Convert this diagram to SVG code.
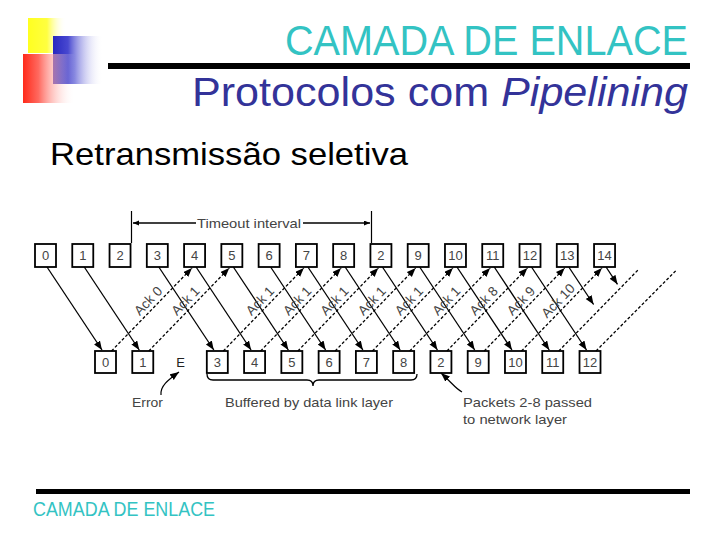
<svg xmlns="http://www.w3.org/2000/svg" width="720" height="540" viewBox="0 0 720 540">
<defs>
<linearGradient id="gy" x1="0" x2="1" y1="0" y2="0"><stop offset="0" stop-color="#FFFF20"/><stop offset="0.5" stop-color="#FFFF40"/><stop offset="1" stop-color="#FFFFFF" stop-opacity="0"/></linearGradient>
<linearGradient id="gb" x1="0" x2="1" y1="0" y2="0"><stop offset="0" stop-color="#2828C0"/><stop offset="0.3" stop-color="#4848D0"/><stop offset="1" stop-color="#FFFFFF" stop-opacity="0"/></linearGradient>
<linearGradient id="gr" x1="0" x2="1" y1="0" y2="0"><stop offset="0" stop-color="#FF2A1A"/><stop offset="0.3" stop-color="#FF6A60"/><stop offset="1" stop-color="#FFFFFF" stop-opacity="0"/></linearGradient>
<marker id="ah" markerUnits="userSpaceOnUse" markerWidth="12" markerHeight="8" refX="9" refY="3.5" orient="auto"><path d="M0,0 L9,3.5 L0,7 z" fill="#000"/></marker>
<marker id="sh" markerUnits="userSpaceOnUse" markerWidth="8" markerHeight="6" refX="6" refY="2.5" orient="auto"><path d="M0,0 L6,2.5 L0,5 z" fill="#000"/></marker>
</defs>
<style>
.box{fill:#fff;stroke:#000;stroke-width:1.8}
.lbl{font-family:"Liberation Sans",Arial,sans-serif;font-size:13px;fill:#444;text-anchor:middle}
.note{font-family:"Liberation Sans",Arial,sans-serif;font-size:13px;fill:#444}
.data{stroke:#000;stroke-width:1.3;fill:none;marker-end:url(#ah)}
.ack{stroke:#000;stroke-width:1.3;fill:none;stroke-dasharray:3,2;marker-end:url(#ah)}
.ackn{stroke:#000;stroke-width:1.3;fill:none;stroke-dasharray:3,2}
.ackl{font-family:"Liberation Sans",Arial,sans-serif;font-size:13.5px;fill:#444;text-anchor:middle}
</style>
<rect width="720" height="540" fill="#fff"/>
<g id="logo">
<rect x="28" y="18" width="38" height="35" fill="url(#gy)"/>
<rect x="53" y="36" width="50" height="48" fill="url(#gb)"/>
<rect x="23" y="54" width="52" height="49" fill="url(#gr)"/>
</g>
<g id="title">
<text x="688" y="55" text-anchor="end" font-family="'Liberation Sans',Arial,sans-serif" font-size="42" fill="#33C3C3" textLength="403" lengthAdjust="spacingAndGlyphs">CAMADA DE ENLACE</text>
<rect x="108" y="63" width="582" height="6" fill="#000"/>
<text x="688" y="106" text-anchor="end" font-family="'Liberation Sans',Arial,sans-serif" font-size="40" fill="#333399" textLength="496" lengthAdjust="spacingAndGlyphs">Protocolos com <tspan font-style="italic">Pipelining</tspan></text>
<text x="50" y="165" font-family="'Liberation Sans',Arial,sans-serif" font-size="32" fill="#000" textLength="358" lengthAdjust="spacingAndGlyphs">Retransmissão seletiva</text>
</g>
<g id="top-frames">
<g id="t0"><rect class="box" x="35" y="244" width="21" height="23"/><text class="lbl" x="45.5" y="260">0</text></g>
<g id="t1"><rect class="box" x="72.27" y="244" width="21" height="23"/><text class="lbl" x="82.77" y="260">1</text></g>
<g id="t2"><rect class="box" x="109.54" y="244" width="21" height="23"/><text class="lbl" x="120.04" y="260">2</text></g>
<g id="t3"><rect class="box" x="146.81" y="244" width="21" height="23"/><text class="lbl" x="157.31" y="260">3</text></g>
<g id="t4"><rect class="box" x="184.08" y="244" width="21" height="23"/><text class="lbl" x="194.58" y="260">4</text></g>
<g id="t5"><rect class="box" x="221.35" y="244" width="21" height="23"/><text class="lbl" x="231.85" y="260">5</text></g>
<g id="t6"><rect class="box" x="258.62" y="244" width="21" height="23"/><text class="lbl" x="269.12" y="260">6</text></g>
<g id="t7"><rect class="box" x="295.89" y="244" width="21" height="23"/><text class="lbl" x="306.39" y="260">7</text></g>
<g id="t8"><rect class="box" x="333.16" y="244" width="21" height="23"/><text class="lbl" x="343.66" y="260">8</text></g>
<g id="t9"><rect class="box" x="370.43" y="244" width="21" height="23"/><text class="lbl" x="380.93" y="260">2</text></g>
<g id="t10"><rect class="box" x="407.7" y="244" width="21" height="23"/><text class="lbl" x="418.2" y="260">9</text></g>
<g id="t11"><rect class="box" x="444.97" y="244" width="21" height="23"/><text class="lbl" x="455.47" y="260">10</text></g>
<g id="t12"><rect class="box" x="482.24" y="244" width="21" height="23"/><text class="lbl" x="492.74" y="260">11</text></g>
<g id="t13"><rect class="box" x="519.51" y="244" width="21" height="23"/><text class="lbl" x="530.01" y="260">12</text></g>
<g id="t14"><rect class="box" x="556.78" y="244" width="21" height="23"/><text class="lbl" x="567.28" y="260">13</text></g>
<g id="t15"><rect class="box" x="594.05" y="244" width="21" height="23"/><text class="lbl" x="604.55" y="260">14</text></g>
</g>
<g id="bottom-frames">
<g id="b0"><rect class="box" x="95" y="351" width="21" height="22"/><text class="lbl" x="105.5" y="366.5">0</text></g>
<g id="b1"><rect class="box" x="132.27" y="351" width="21" height="22"/><text class="lbl" x="142.77" y="366.5">1</text></g>
<g id="b2"><text class="lbl" x="180.5" y="367" style="fill:#222">E</text></g>
<g id="b3"><rect class="box" x="206.81" y="351" width="21" height="22"/><text class="lbl" x="217.31" y="366.5">3</text></g>
<g id="b4"><rect class="box" x="244.08" y="351" width="21" height="22"/><text class="lbl" x="254.58" y="366.5">4</text></g>
<g id="b5"><rect class="box" x="281.35" y="351" width="21" height="22"/><text class="lbl" x="291.85" y="366.5">5</text></g>
<g id="b6"><rect class="box" x="318.62" y="351" width="21" height="22"/><text class="lbl" x="329.12" y="366.5">6</text></g>
<g id="b7"><rect class="box" x="355.89" y="351" width="21" height="22"/><text class="lbl" x="366.39" y="366.5">7</text></g>
<g id="b8"><rect class="box" x="393.16" y="351" width="21" height="22"/><text class="lbl" x="403.66" y="366.5">8</text></g>
<g id="b9"><rect class="box" x="430.43" y="351" width="21" height="22"/><text class="lbl" x="440.93" y="366.5">2</text></g>
<g id="b10"><rect class="box" x="467.7" y="351" width="21" height="22"/><text class="lbl" x="478.2" y="366.5">9</text></g>
<g id="b11"><rect class="box" x="504.97" y="351" width="21" height="22"/><text class="lbl" x="515.47" y="366.5">10</text></g>
<g id="b12"><rect class="box" x="542.24" y="351" width="21" height="22"/><text class="lbl" x="552.74" y="366.5">11</text></g>
<g id="b13"><rect class="box" x="579.51" y="351" width="21" height="22"/><text class="lbl" x="590.01" y="366.5">12</text></g>
</g>
<g id="connectors">
<path class="data" d="M47,267 L102,350"/>
<path class="data" d="M84.27,267 L139.27,350"/>
<path class="data" d="M158.81,267 L213.81,350"/>
<path class="data" d="M196.08,267 L251.08,350"/>
<path class="data" d="M233.35,267 L288.35,350"/>
<path class="data" d="M270.62,267 L325.62,350"/>
<path class="data" d="M307.89,267 L362.89,350"/>
<path class="data" d="M345.16,267 L400.16,350"/>
<path class="data" d="M382.43,267 L437.43,350"/>
<path class="data" d="M419.7,267 L474.7,350"/>
<path class="data" d="M456.97,267 L511.97,350"/>
<path class="data" d="M494.24,267 L549.24,350"/>
<path class="data" d="M531.51,267 L586.51,350"/>
<path class="data" d="M568.78,267 L593.6,304.5"/>
<path class="data" d="M606.05,267 L617.5,284.3"/>
<path class="ack" d="M111.5,351 L192,268"/>
<path class="ack" d="M148.77,351 L229.27,268"/>
<path class="ack" d="M223.31,351 L303.81,268"/>
<path class="ack" d="M260.58,351 L341.08,268"/>
<path class="ack" d="M297.85,351 L378.35,268"/>
<path class="ack" d="M335.12,351 L415.62,268"/>
<path class="ack" d="M372.39,351 L452.89,268"/>
<path class="ack" d="M409.66,351 L490.16,268"/>
<path class="ack" d="M446.93,351 L527.43,268"/>
<path class="ack" d="M484.2,351 L564.7,268"/>
<path class="ack" d="M521.47,351 L601.97,268"/>
<path class="ackn" d="M558.74,351 L638,270"/>
<path class="ackn" d="M596.01,351 L676.5,270"/>
<g id="ack-labels">
<text class="ackl" transform="translate(151.4,304) rotate(-46)">Ack 0</text>
<text class="ackl" transform="translate(188.7,304) rotate(-46)">Ack 1</text>
<text class="ackl" transform="translate(263.3,304) rotate(-46)">Ack 1</text>
<text class="ackl" transform="translate(300.5,304) rotate(-46)">Ack 1</text>
<text class="ackl" transform="translate(337.8,304) rotate(-46)">Ack 1</text>
<text class="ackl" transform="translate(375.1,304) rotate(-46)">Ack 1</text>
<text class="ackl" transform="translate(412.3,304) rotate(-46)">Ack 1</text>
<text class="ackl" transform="translate(449.6,304) rotate(-46)">Ack 1</text>
<text class="ackl" transform="translate(486.9,304) rotate(-46)">Ack 8</text>
<text class="ackl" transform="translate(524.2,304) rotate(-46)">Ack 9</text>
<text class="ackl" transform="translate(561.4,304) rotate(-46)">Ack 10</text>
</g>
<g id="timeout">
<path d="M131.5,211 L131.5,243 M371.5,211 L371.5,243" stroke="#000" stroke-width="1.2"/>
<path d="M196,223 L133,223" stroke="#000" stroke-width="1.5" marker-end="url(#sh)"/>
<path d="M303,223 L370,223" stroke="#000" stroke-width="1.5" marker-end="url(#sh)"/>
<text class="note" x="197" y="227.5" font-size="12" textLength="104" lengthAdjust="spacingAndGlyphs">Timeout interval</text>
</g>
<path d="M207,374 Q207,380 213,380 L307,380 Q313,380 313,386 Q313,380 319,380 L411,380 Q417,380 417,374" fill="none" stroke="#000" stroke-width="1.3"/>
<path d="M161,395 C160,386 168,380 179,372" fill="none" stroke="#000" stroke-width="1.2" marker-end="url(#ah)"/>
<path d="M462,392 C456,389 452,383 441,373" fill="none" stroke="#000" stroke-width="1.2" marker-end="url(#ah)"/>
</g>
<g id="notes">
<text class="note" x="132" y="407" textLength="31" lengthAdjust="spacingAndGlyphs">Error</text>
<text class="note" x="225" y="407" textLength="168" lengthAdjust="spacingAndGlyphs">Buffered by data link layer</text>
<text class="note" x="463" y="407" textLength="129" lengthAdjust="spacingAndGlyphs">Packets 2-8 passed</text>
<text class="note" x="463" y="424" textLength="104" lengthAdjust="spacingAndGlyphs">to network layer</text>
</g>
<g id="footer">
<rect x="36" y="489" width="654" height="5" fill="#000"/>
<text x="33" y="516" font-family="'Liberation Sans',Arial,sans-serif" font-size="20" fill="#33C3C3" textLength="182" lengthAdjust="spacingAndGlyphs">CAMADA DE ENLACE</text>
</g>
</svg>
